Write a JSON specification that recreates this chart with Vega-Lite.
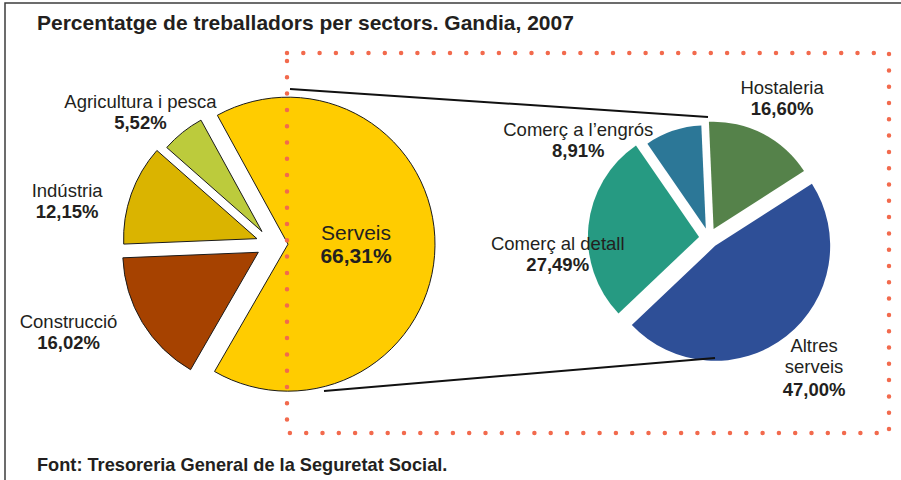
{
  "$schema": "https://vega.github.io/schema/vega-lite/v6.json",
  "width": 900,
  "height": 480,
  "autosize": {"type": "none"},
  "padding": {"left": 5, "top": 3, "right": 0, "bottom": 0},
  "background": "white",
  "config": {
    "view": {"stroke": "#3c3c3c", "strokeWidth": 1.5},
    "axis": {"disable": true},
    "legend": {"disable": true},
    "locale": {"number": {"decimal": ",", "thousands": ".", "grouping": [3], "currency": ["", "%"]}},
    "text": {"font": "Liberation Sans", "color": "#231f20"}
  },
  "datasets": {
    "sectors": [
      {"categoria": "Construcció", "pct": 16.02, "ordre": 1},
      {"categoria": "Indústria", "pct": 12.15, "ordre": 2},
      {"categoria": "Agricultura i pesca", "pct": 5.52, "ordre": 3},
      {"categoria": "Serveis", "pct": 66.31, "ordre": 4}
    ],
    "serveis": [
      {"categoria": "Hostaleria", "pct": 16.60, "ordre": 1},
      {"categoria": "Altres serveis", "pct": 47.00, "ordre": 2},
      {"categoria": "Comerç al detall", "pct": 27.49, "ordre": 3},
      {"categoria": "Comerç a l’engrós", "pct": 8.91, "ordre": 4}
    ]
  },
  "resolve": {"scale": {"theta": "independent", "radius": "independent"}},
  "layer": [
    {
      "data": {"name": "sectors"},
      "transform": [{"stack": "pct", "groupby": [], "sort": [{"field": "ordre", "order": "ascending"}], "as": ["p0", "p1"]}],
      "encoding": {
        "x": {"datum": 29.667, "type": "quantitative", "scale": {"domain": [0, 100], "nice": false, "zero": false}},
        "y": {"datum": 50.208, "type": "quantitative", "scale": {"domain": [0, 100], "nice": false, "zero": false, "reverse": true}}
      },
      "layer": [
        {
          "mark": {"type": "arc", "stroke": "#1a1a1a", "strokeWidth": 1,
            "xOffset": {"expr": "16*sin(3.665 + PI*(datum.p0+datum.p1)/100)"},
            "yOffset": {"expr": "-16*cos(3.665 + PI*(datum.p0+datum.p1)/100)"}},
          "encoding": {
            "theta": {"field": "p0", "type": "quantitative", "scale": {"domain": [0, 100], "range": [3.665, 9.9482]}},
            "theta2": {"field": "p1"},
            "radius": {"field": "pct", "type": "quantitative", "scale": {"type": "log", "domain": [5.52, 66.31], "range": [127, 147], "zero": false, "nice": false}},
            "radius2": {"value": 0},
            "color": {"field": "categoria", "type": "nominal", "legend": null,
              "scale": {"domain": ["Serveis", "Construcció", "Indústria", "Agricultura i pesca", "Hostaleria", "Altres serveis", "Comerç al detall", "Comerç a l’engrós"],
                        "range": ["#FFCC00", "#A64200", "#DAB400", "#BCCB3C", "#55824A", "#2E4F97", "#269A82", "#2C7797"]}}
          }
        },
        {
          "mark": {"type": "text", "baseline": "bottom", "fontSize": 18.5, "radiusOffset": 66,
            "dx": {"expr": "({'Agricultura i pesca': -11, 'Indústria': -17, 'Construcció': -31})[datum.categoria] || 0"},
            "dy": {"expr": "(({'Agricultura i pesca': 20, 'Indústria': 25, 'Construcció': -15})[datum.categoria] || 0) - 1"}},
          "encoding": {
            "theta": {"field": "pct", "type": "quantitative", "stack": true, "scale": {"domain": [0, 100], "range": [3.665, 9.9482]}},
            "order": {"field": "ordre"},
            "detail": {"field": "categoria"},
            "radius": {"field": "pct", "type": "quantitative", "scale": {"type": "log", "domain": [5.52, 66.31], "range": [127, 147], "zero": false, "nice": false}},
            "text": {"condition": {"test": "datum.categoria === 'Serveis'", "value": ""}, "field": "categoria", "type": "nominal"}
          }
        },
        {
          "mark": {"type": "text", "baseline": "top", "fontSize": 18.5, "fontWeight": "bold", "radiusOffset": 66,
            "dx": {"expr": "({'Agricultura i pesca': -11, 'Indústria': -17, 'Construcció': -31})[datum.categoria] || 0"},
            "dy": {"expr": "(({'Agricultura i pesca': 20, 'Indústria': 25, 'Construcció': -15})[datum.categoria] || 0) + 1"}},
          "encoding": {
            "theta": {"field": "pct", "type": "quantitative", "stack": true, "scale": {"domain": [0, 100], "range": [3.665, 9.9482]}},
            "order": {"field": "ordre"},
            "detail": {"field": "categoria"},
            "radius": {"field": "pct", "type": "quantitative", "scale": {"type": "log", "domain": [5.52, 66.31], "range": [127, 147], "zero": false, "nice": false}},
            "text": {"condition": {"test": "datum.categoria === 'Serveis'", "value": ""}, "field": "pct", "type": "quantitative", "format": "$.2f"}
          }
        },
        {
          "mark": {"type": "text", "baseline": "bottom", "fontSize": 21, "radiusOffset": -63, "dy": -1},
          "encoding": {
            "theta": {"field": "pct", "type": "quantitative", "stack": true, "scale": {"domain": [0, 100], "range": [3.665, 9.9482]}},
            "order": {"field": "ordre"},
            "detail": {"field": "categoria"},
            "radius": {"field": "pct", "type": "quantitative", "scale": {"type": "log", "domain": [5.52, 66.31], "range": [127, 147], "zero": false, "nice": false}},
            "text": {"condition": {"test": "datum.categoria !== 'Serveis'", "value": ""}, "field": "categoria", "type": "nominal"}
          }
        },
        {
          "mark": {"type": "text", "baseline": "top", "fontSize": 21, "fontWeight": "bold", "radiusOffset": -63, "dy": 1},
          "encoding": {
            "theta": {"field": "pct", "type": "quantitative", "stack": true, "scale": {"domain": [0, 100], "range": [3.665, 9.9482]}},
            "order": {"field": "ordre"},
            "detail": {"field": "categoria"},
            "radius": {"field": "pct", "type": "quantitative", "scale": {"type": "log", "domain": [5.52, 66.31], "range": [127, 147], "zero": false, "nice": false}},
            "text": {"condition": {"test": "datum.categoria !== 'Serveis'", "value": ""}, "field": "pct", "type": "quantitative", "format": "$.2f"}
          }
        }
      ]
    },
    {
      "data": {"name": "serveis"},
      "transform": [{"stack": "pct", "groupby": [], "sort": [{"field": "ordre", "order": "ascending"}], "as": ["p0", "p1"]}],
      "encoding": {
        "x": {"datum": 78.222, "type": "quantitative", "scale": {"domain": [0, 100], "nice": false, "zero": false}},
        "y": {"datum": 48.958, "type": "quantitative", "scale": {"domain": [0, 100], "nice": false, "zero": false, "reverse": true}}
      },
      "layer": [
        {
          "mark": {"type": "arc",
            "xOffset": {"expr": "10*sin(-0.0436 + PI*(datum.p0+datum.p1)/100)"},
            "yOffset": {"expr": "-10*cos(-0.0436 + PI*(datum.p0+datum.p1)/100)"}},
          "encoding": {
            "theta": {"field": "p0", "type": "quantitative", "scale": {"domain": [0, 100], "range": [-0.0436, 6.2396]}},
            "theta2": {"field": "p1"},
            "radius": {"field": "pct", "type": "quantitative", "scale": {"type": "log", "domain": [8.91, 47], "range": [103, 115], "zero": false, "nice": false}},
            "radius2": {"value": 0},
            "color": {"field": "categoria", "type": "nominal", "legend": null,
              "scale": {"domain": ["Serveis", "Construcció", "Indústria", "Agricultura i pesca", "Hostaleria", "Altres serveis", "Comerç al detall", "Comerç a l’engrós"],
                        "range": ["#FFCC00", "#A64200", "#DAB400", "#BCCB3C", "#55824A", "#2E4F97", "#269A82", "#2C7797"]}}
          }
        },
        {
          "mark": {"type": "text", "baseline": "bottom", "fontSize": 18.5, "radiusOffset": 47,
            "dx": {"expr": "({'Comerç a l’engrós': -83, 'Comerç al detall': 6, 'Altres serveis': 5, 'Hostaleria': 2})[datum.categoria] || 0"},
            "dy": {"expr": "(({'Comerç a l’engrós': 45, 'Comerç al detall': 33, 'Altres serveis': -8, 'Hostaleria': -2})[datum.categoria] || 0) - 1"},
            "lineBreak": {"expr": "datum.categoria === 'Altres serveis' ? ' ' : '\\n'"}},
          "encoding": {
            "theta": {"field": "pct", "type": "quantitative", "stack": true, "scale": {"domain": [0, 100], "range": [-0.0436, 6.2396]}},
            "order": {"field": "ordre"},
            "detail": {"field": "categoria"},
            "radius": {"field": "pct", "type": "quantitative", "scale": {"type": "log", "domain": [8.91, 47], "range": [103, 115], "zero": false, "nice": false}},
            "text": {"field": "categoria", "type": "nominal"}
          }
        },
        {
          "mark": {"type": "text", "baseline": "top", "fontSize": 18.5, "fontWeight": "bold", "radiusOffset": 47,
            "dx": {"expr": "({'Comerç a l’engrós': -83, 'Comerç al detall': 6, 'Altres serveis': 5, 'Hostaleria': 2})[datum.categoria] || 0"},
            "dy": {"expr": "(({'Comerç a l’engrós': 45, 'Comerç al detall': 33, 'Altres serveis': 15, 'Hostaleria': -2})[datum.categoria] || 0) + 1"}},
          "encoding": {
            "theta": {"field": "pct", "type": "quantitative", "stack": true, "scale": {"domain": [0, 100], "range": [-0.0436, 6.2396]}},
            "order": {"field": "ordre"},
            "detail": {"field": "categoria"},
            "radius": {"field": "pct", "type": "quantitative", "scale": {"type": "log", "domain": [8.91, 47], "range": [103, 115], "zero": false, "nice": false}},
            "text": {"field": "pct", "type": "quantitative", "format": "$.2f"}
          }
        }
      ]
    },
    {
      "data": {"values": [{}]},
      "layer": [
        {
          "mark": {"type": "rule", "color": "#111111", "strokeWidth": 2},
          "encoding": {
            "x": {"datum": 31.667, "type": "quantitative", "scale": {"domain": [0, 100], "nice": false, "zero": false}},
            "y": {"datum": 17.917, "type": "quantitative", "scale": {"domain": [0, 100], "nice": false, "zero": false, "reverse": true}},
            "x2": {"datum": 78.111},
            "y2": {"datum": 23.75}
          }
        },
        {
          "mark": {"type": "rule", "color": "#111111", "strokeWidth": 2},
          "encoding": {
            "x": {"datum": 35.444, "type": "quantitative", "scale": {"domain": [0, 100], "nice": false, "zero": false}},
            "y": {"datum": 80.833, "type": "quantitative", "scale": {"domain": [0, 100], "nice": false, "zero": false, "reverse": true}},
            "x2": {"datum": 78.889},
            "y2": {"datum": 73.958}
          }
        },
        {
          "mark": {"type": "rect", "filled": false, "stroke": "#F26A4D", "strokeWidth": 4.5, "strokeDash": [0, 16.3], "strokeCap": "round"},
          "encoding": {
            "x": {"datum": 31.333, "type": "quantitative", "scale": {"domain": [0, 100], "nice": false, "zero": false}},
            "y": {"datum": 10.417, "type": "quantitative", "scale": {"domain": [0, 100], "nice": false, "zero": false, "reverse": true}},
            "x2": {"datum": 98.222},
            "y2": {"datum": 89.583}
          }
        },
        {
          "mark": {"type": "text", "text": "Percentatge de treballadors per sectors. Gandia, 2007", "align": "left", "baseline": "alphabetic",
            "font": "Liberation Sans", "fontSize": 21, "fontWeight": "bold", "color": "#231f20"},
          "encoding": {
            "x": {"datum": 3.556, "type": "quantitative", "scale": {"domain": [0, 100], "nice": false, "zero": false}},
            "y": {"datum": 5.625, "type": "quantitative", "scale": {"domain": [0, 100], "nice": false, "zero": false, "reverse": true}}
          }
        },
        {
          "mark": {"type": "text", "text": "Font: Tresoreria General de la Seguretat Social.", "align": "left", "baseline": "alphabetic",
            "font": "Liberation Sans", "fontSize": 18.2, "fontWeight": "bold", "color": "#231f20"},
          "encoding": {
            "x": {"datum": 3.556, "type": "quantitative", "scale": {"domain": [0, 100], "nice": false, "zero": false}},
            "y": {"datum": 97.5, "type": "quantitative", "scale": {"domain": [0, 100], "nice": false, "zero": false, "reverse": true}}
          }
        }
      ]
    }
  ]
}
